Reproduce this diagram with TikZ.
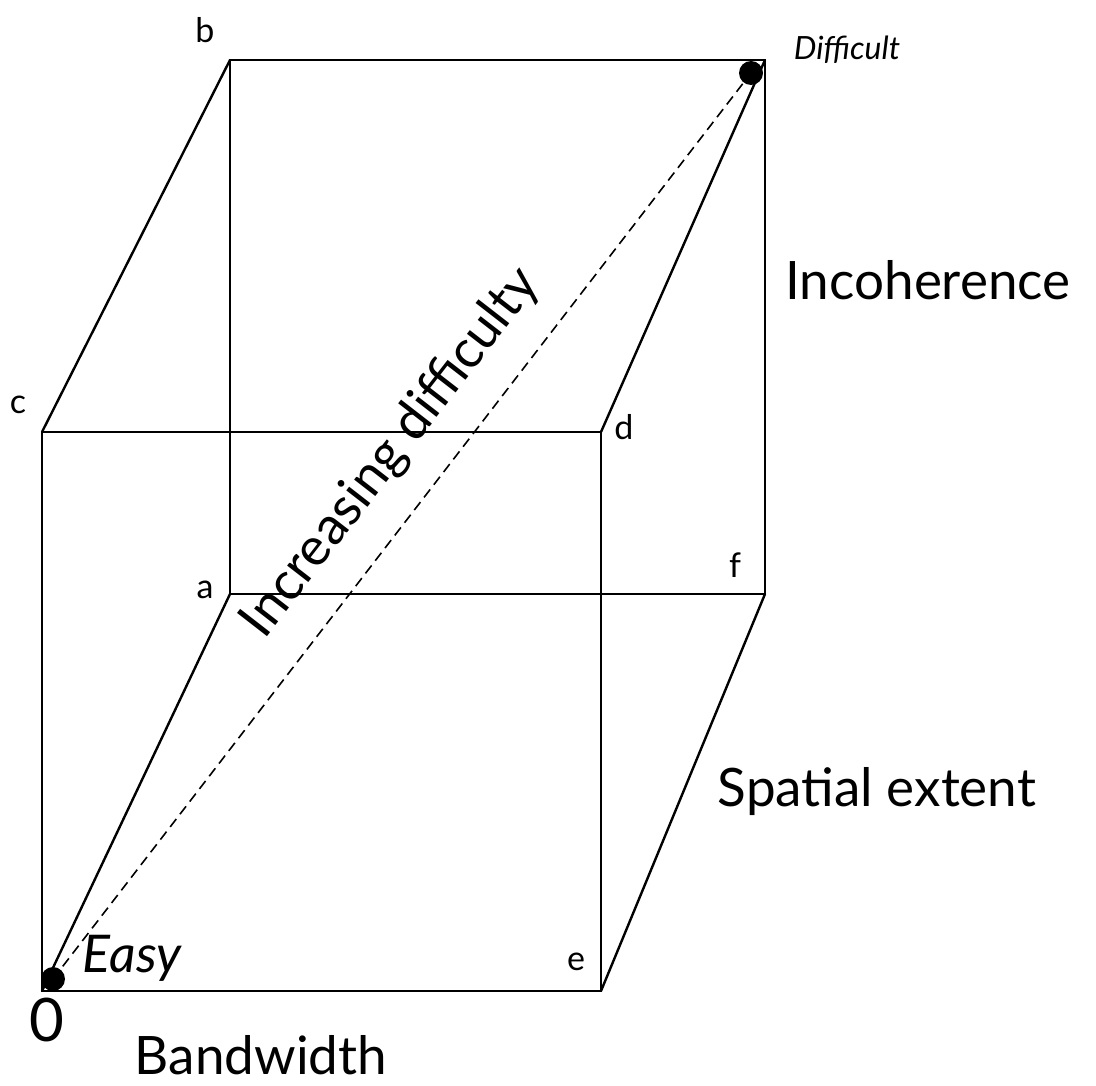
\documentclass[tikz,border=0pt]{standalone}
\usepackage{fontspec}
\setmainfont{Lato}
\usetikzlibrary{calc}

\begin{document}
\begin{tikzpicture}[x=1pt,y=-1pt,line width=2.4pt,
  corner/.style={font=\fontsize{34}{38}\selectfont},
  axis/.style={font=\fontsize{53}{56}\selectfont},
  dot/.style={circle,fill,inner sep=0pt,minimum size=24pt}]
 \useasboundingbox (0,0) rectangle (1096,1086);
 % front and back faces
 \coordinate (o) at (42,991);  \coordinate (e) at (601,991);
 \coordinate (d) at (601,432); \coordinate (c) at (42,432);
 \coordinate (a) at (230,594); \coordinate (f) at (765,594);
 \coordinate (t) at (765,60);  \coordinate (b) at (230,60);
 \draw (o)--(e)--(d)--(c)--cycle;
 \draw (a)--(f)--(t)--(b)--cycle;
 \draw (o)--(a) (e)--(f) (d)--(t) (c)--(b);
 % diagonal
 \node[dot] (easy) at (53,979) {};
 \node[dot] (hard) at (751,73) {};
 \draw[line width=1.6pt,dash pattern=on 10pt off 6pt] (easy.center)--(hard.center);
 \node[axis,rotate=52.2] (incr) at (391,453) {Increasing difficulty};
 % labels
 \node[corner] (lb) at (205,30) {b};
 \node[corner] (lc) at (18,405) {c};
 \node[corner] (ld) at (624,427) {d};
 \node[corner] (la) at (205,590) {a};
 \node[corner] (lf) at (735,565) {f};
 \node[corner] (le) at (576,962) {e};
 \node[font=\fontsize{60}{64}\selectfont] (lo) at (47,1020) {0};
 \node[axis,font=\fontsize{52}{56}\selectfont\itshape] (leasy) at (132,958) {Easy};
 \node[font=\fontsize{32}{36}\selectfont\itshape] (lhard) at (847,50) {Difficult};
 \node[axis] (linc) at (928,280) {Incoherence};
 \node[axis] (lspat) at (877,792) {Spatial extent};
 \node[axis] (lband) at (261,1055) {Bandwidth};
\end{tikzpicture}
\end{document}
